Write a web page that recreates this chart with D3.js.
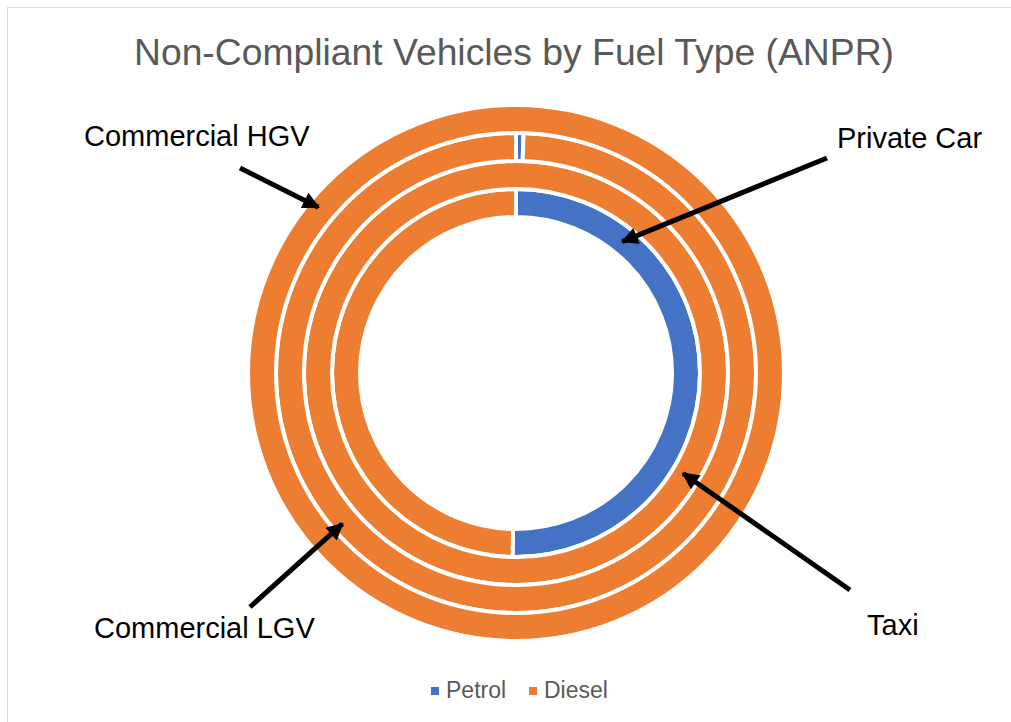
<!DOCTYPE html>
<html lang="en">
<head>
<meta charset="UTF-8">
<title>Non-Compliant Vehicles by Fuel Type (ANPR)</title>
<script src="https://d3js.org/d3.v7.min.js"></script>
<style>
    body { margin: 0; background: #fff; font-family: "Liberation Sans", Arial, sans-serif; }
</style>
</head>
<body>
<div id="chart"></div>
<script>
    // rings from inner to outer
    var categories = ['Private Car', 'Taxi', 'Commercial LGV', 'Commercial HGV'];
    var fuels = ['Petrol', 'Diesel'];
    var petrol = [50.3, 0, 0.5, 0];
    var diesel = [49.7, 100, 99.5, 100];
    var colors = ['#4472c4', '#ed7d31'];

    var w = 1011, h = 722;
    var cx = 516, cy = 373;
    var holeR = 156, ringW = 28;

    var svg = d3.select('#chart').append('svg')
        .attr('width', w)
        .attr('height', h);

    // chart area border (runs off the right/bottom)
    svg.append('rect')
        .attr('x', 7.5).attr('y', 7.5)
        .attr('width', w + 20).attr('height', h + 20)
        .attr('fill', 'none')
        .attr('stroke', '#d9d9d9');

    svg.append('text')
        .attr('x', 514).attr('y', 65)
        .attr('text-anchor', 'middle')
        .attr('font-size', '37.3px')
        .attr('fill', '#595959')
        .text('Non-Compliant Vehicles by Fuel Type (ANPR)');

    var color = d3.scaleOrdinal().domain(fuels).range(colors);
    var pie = d3.pie().sort(null).value(function(d){ return d.value; });

    var g = svg.append('g').attr('transform', 'translate(' + cx + ',' + cy + ')');

    categories.forEach(function(cat, i){
        var rows = [{fuel: 'Petrol', value: petrol[i]}, {fuel: 'Diesel', value: diesel[i]}];
        var arc = d3.arc()
            .innerRadius(holeR + i * ringW)
            .outerRadius(holeR + (i + 1) * ringW);
        g.append('g').attr('class', 'ring').selectAll('path')
            .data(pie(rows))
            .enter()
            .append('path')
            .attr('d', arc)
            .attr('fill', function(d){ return color(d.data.fuel); })
            .attr('stroke', '#fff')
            .attr('stroke-width', 4)
            .attr('stroke-linejoin', 'miter');
    });

    // callouts: angle (deg clockwise from top) and radius of the arrow tip, tail and label spot
    var notes = [
        {label: 'Private Car',    angle: 39,  r: 169, tail: [827, 158], text: [837, 148]},
        {label: 'Taxi',           angle: 121, r: 195, tail: [850, 590], text: [867, 635]},
        {label: 'Commercial LGV', angle: 229, r: 230, tail: [250, 607], text: [94, 638]},
        {label: 'Commercial HGV', angle: 310, r: 258, tail: [240, 168], text: [84, 146]}
    ];

    svg.append('defs').append('marker')
        .attr('id', 'head')
        .attr('markerUnits', 'userSpaceOnUse')
        .attr('viewBox', '0 0 10 10')
        .attr('refX', 9).attr('refY', 5)
        .attr('markerWidth', 19).attr('markerHeight', 17)
        .attr('orient', 'auto')
        .append('path')
        .attr('d', 'M0,0 L10,5 L0,10 Z')
        .attr('fill', '#000');

    notes.forEach(function(n){
        var p = d3.pointRadial(n.angle * Math.PI / 180, n.r);
        svg.append('line')
            .attr('x1', n.tail[0]).attr('y1', n.tail[1])
            .attr('x2', cx + p[0]).attr('y2', cy + p[1])
            .attr('stroke', '#000')
            .attr('stroke-width', 5)
            .attr('marker-end', 'url(#head)');
        svg.append('text')
            .attr('x', n.text[0]).attr('y', n.text[1])
            .attr('font-size', '29px')
            .attr('fill', '#000')
            .text(n.label);
    });

    // legend
    var legend = svg.append('g').attr('transform', 'translate(431, 698)');
    var lx = [0, 98];
    fuels.forEach(function(f, i){
        legend.append('rect')
            .attr('x', lx[i]).attr('y', -11)
            .attr('width', 8).attr('height', 8)
            .attr('fill', color(f));
        legend.append('text')
            .attr('x', lx[i] + 15).attr('y', 0)
            .attr('font-size', '23px')
            .attr('fill', '#595959')
            .text(f);
    });
</script>
</body>
</html>
